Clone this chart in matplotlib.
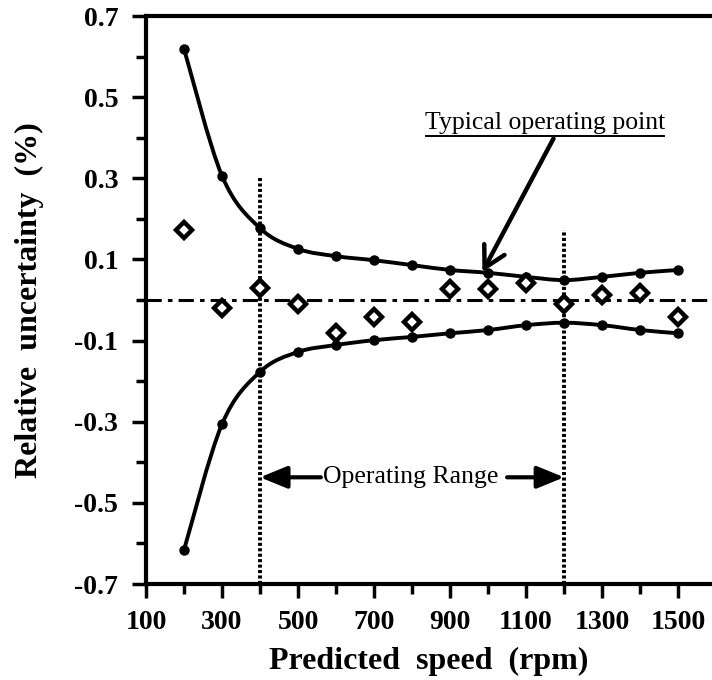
import numpy as np
import matplotlib
matplotlib.use("Agg")
import matplotlib.pyplot as plt
from matplotlib.path import Path
from matplotlib.patches import PathPatch

speed = [200, 300, 400, 500, 600, 700, 800, 900, 1000, 1100, 1200, 1300, 1400, 1500]
upper = [0.619, 0.306, 0.177, 0.126, 0.108, 0.098, 0.086, 0.074, 0.067, 0.057, 0.049, 0.057, 0.067, 0.074]
lower = [-0.616, -0.306, -0.177, -0.128, -0.111, -0.099, -0.091, -0.082, -0.074, -0.062, -0.056, -0.062, -0.074, -0.082]
measured = [0.172, -0.020, 0.029, -0.010, -0.082, -0.041, -0.053, 0.027, 0.027, 0.043, -0.010, 0.012, 0.018, -0.041]

xticks_major = [100, 300, 500, 700, 900, 1100, 1300, 1500]
yticks_major = [-0.7, -0.5, -0.3, -0.1, 0.1, 0.3, 0.5, 0.7]
range_lo, range_hi = 400, 1200

plt.rcParams['font.family'] = ['Liberation Serif', 'DejaVu Serif']

fig = plt.figure(figsize=(7.12, 6.8), dpi=100)
ax = fig.add_axes([146/712, 96/680, 566/712, 568/680])
ax.set_xlim(100, 1589)
ax.set_ylim(-0.7, 0.7)


def smooth_path(xs, ys):
    xs = np.asarray(xs, float); ys = np.asarray(ys, float)
    verts = [(xs[0], ys[0])]
    codes = [Path.MOVETO]
    n = len(xs)
    for i in range(n - 1):
        p0 = np.array([xs[max(i - 1, 0)], ys[max(i - 1, 0)]])
        p1 = np.array([xs[i], ys[i]])
        p2 = np.array([xs[i + 1], ys[i + 1]])
        p3 = np.array([xs[min(i + 2, n - 1)], ys[min(i + 2, n - 1)]])
        c1 = p1 + (p2 - p0) / 6.0
        c2 = p2 - (p3 - p1) / 6.0
        verts += [tuple(c1), tuple(c2), tuple(p2)]
        codes += [Path.CURVE4] * 3
    return Path(verts, codes)


for series in (upper, lower):
    ax.add_patch(PathPatch(smooth_path(speed, series), fill=False, lw=2.8,
                           edgecolor='black', zorder=3))
    ax.plot(speed, series, 'o', color='black', ms=6.5, zorder=4)

ax.plot(speed, measured, 'D', mfc='white', mec='black', mew=3.2, ms=8.5, zorder=5)

ax.axhline(0, color='black', lw=2.2, ls=(0, (5, 2, 1.5, 2)), zorder=2)
ax.plot([range_lo, range_lo], [-0.7, 0.3], color='black', lw=2.8, ls=(0, (0.8, 0.6)), zorder=2)
ax.plot([range_hi, range_hi], [-0.7, 0.172], color='black', lw=2.8, ls=(0, (0.8, 0.6)), zorder=2)

ax.text(797, -0.437, 'Operating Range', ha='center', va='center', fontsize=18.5)
ax.annotate('', xy=(range_lo, -0.437), xytext=(560, -0.437),
            arrowprops=dict(arrowstyle='-|>,head_length=1.1,head_width=0.45', lw=3,
                            color='black', shrinkA=0, shrinkB=0, mutation_scale=15))
ax.annotate('', xy=(range_hi, -0.437), xytext=(1050, -0.437),
            arrowprops=dict(arrowstyle='-|>,head_length=1.1,head_width=0.45', lw=3,
                            color='black', shrinkA=0, shrinkB=0, mutation_scale=15))

ax.text(1150, 0.437, 'Typical operating point', ha='center', va='center', fontsize=18.5)
ax.plot([836, 1464], [0.405, 0.405], color='black', lw=1.4)
ax.annotate('', xy=(985, 0.069), xytext=(1172, 0.398),
            arrowprops=dict(arrowstyle='->,head_length=1.0,head_width=0.55', lw=3.2,
                            color='black', shrinkA=0, shrinkB=0, mutation_scale=15))

ax.set_xticks(xticks_major)
ax.set_xticks(list(range(200, 1600, 200)), minor=True)
ax.set_yticks(yticks_major)
ax.set_yticks(list(np.round(np.arange(-0.6, 0.61, 0.2), 1)), minor=True)
ax.set_xticklabels([str(v) for v in xticks_major], fontsize=20, fontweight='bold')
ax.set_yticklabels([f'{v:.1f}' for v in yticks_major], fontsize=20, fontweight='bold')
ax.tick_params(which='major', direction='out', length=10, width=2.5, pad=9)
ax.tick_params(which='minor', direction='out', length=7, width=2.5)
ax.tick_params(axis='y', which='major', pad=10)

for s in ('left', 'bottom', 'top'):
    ax.spines[s].set_linewidth(3)
ax.spines['right'].set_visible(False)

ax.set_xlabel('Predicted  speed  (rpm)', fontsize=23, fontweight='bold', labelpad=8)
ax.set_ylabel('Relative  uncertainty  (%)', fontsize=23, fontweight='bold', labelpad=22)

fig.savefig('out.png', dpi=100)
